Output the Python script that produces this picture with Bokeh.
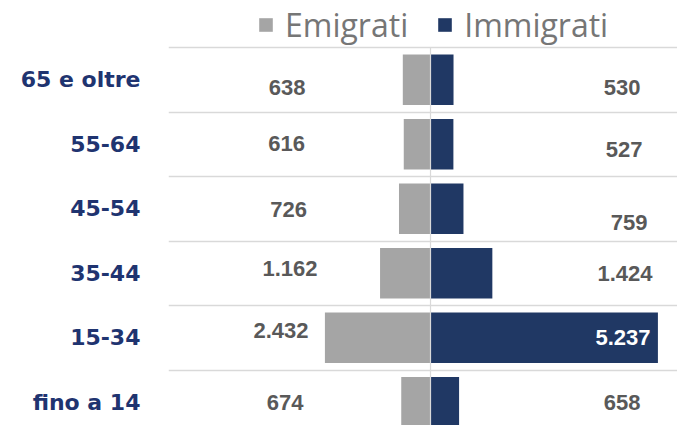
from bokeh.plotting import figure
from bokeh.models import (ColumnDataSource, Range1d, FixedTicker, Legend, LegendItem)
from bokeh.core.properties import value
from bokeh.embed import file_html
from bokeh.resources import INLINE

# ---- data ----
categories = ["65 e oltre", "55-64", "45-54", "35-44", "15-34", "fino a 14"]
emigrati = [638, 616, 726, 1162, 2432, 674]
immigrati = [530, 527, 759, 1424, 5237, 658]
series_names = ["Emigrati", "Immigrati"]

# ---- layout / style ----
GRAY = "#A5A5A5"
NAVY = "#203864"
LABEL_NAVY = "#1F3470"
VAL_GRAY = "#595959"
GRID = "#D9D9D9"

# per-label nudges in screen pixels (label placement as in the original)
emi_dx = [0.5, 0, 2, 3.5, -5.5, -1.5]
emi_dy = [7.5, -0.5, 1, -5, -7.5, 0.5]
imm_dx = [-1.5, 0.5, 5.5, 1.5, -0.5, -1.5]
imm_dy = [7.5, 5, 13.5, 0, -0.5, 0.5]
LEFT_COL = -3316   # x of the Emigrati value column (data units)
RIGHT_COL = 4445   # x of the Immigrati value column (data units)


def fmt(v):
    return f"{v:,}".replace(",", ".")


n = len(categories)
centers = [i + 0.5 for i in range(n)]

src = ColumnDataSource(dict(
    y=centers,
    cat=categories,
    emi_left=[-v for v in emigrati],
    emi=emigrati,
    imm=immigrati,
    zero=[0] * n,
    emi_txt=[fmt(v) for v in emigrati],
    imm_txt=[fmt(v) for v in immigrati],
    emi_x=[LEFT_COL] * n,
    imm_x=[RIGHT_COL] * n,
    emi_dx=emi_dx, emi_dy=emi_dy,
    imm_dx=imm_dx, imm_dy=imm_dy,
    imm_col=["#FFFFFF" if v == max(immigrati) else VAL_GRAY for v in immigrati],
))

p = figure(width=677, height=425, output_backend="svg", toolbar_location=None,
           x_range=Range1d(-6034, 5688), y_range=Range1d(5.86, -0.729),
           min_border_left=168, min_border_right=0, min_border_top=0,
           min_border_bottom=0)
p.outline_line_color = None
p.background_fill_color = "white"
p.border_fill_color = "white"
p.xaxis.visible = False
p.xgrid.visible = False

p.ygrid.ticker = FixedTicker(ticks=list(range(n)))
p.ygrid.grid_line_color = GRID
p.ygrid.grid_line_width = 1.5

yax = p.yaxis[0]
yax.ticker = FixedTicker(ticks=centers)
yax.major_label_overrides = {c: lab for c, lab in zip(centers, categories)}
yax.axis_line_color = None
yax.major_tick_line_color = None
yax.minor_tick_line_color = None
yax.major_tick_out = 0
yax.major_tick_in = 0
yax.major_label_standoff = 28
yax.major_label_text_font = "DejaVu Sans"
yax.major_label_text_font_style = "bold"
yax.major_label_text_font_size = "22px"
yax.major_label_text_color = LABEL_NAVY

r_emi = p.hbar(y="y", left="emi_left", right="zero", height=0.78, source=src,
               fill_color=GRAY, line_color=None)
r_imm = p.hbar(y="y", left="zero", right="imm", height=0.78, source=src,
               fill_color=NAVY, line_color=None)

# central axis line
p.segment(x0=0, y0=0, x1=0, y1=n, line_color=GRID, line_width=1.2)

p.text(x="emi_x", y="y", text="emi_txt", source=src, x_offset="emi_dx",
       y_offset="emi_dy", text_align="center", text_baseline="middle",
       text_font=value("Liberation Sans"), text_font_style="bold",
       text_font_size="22px", text_color=VAL_GRAY)
p.text(x="imm_x", y="y", text="imm_txt", source=src, x_offset="imm_dx",
       y_offset="imm_dy", text_align="center", text_baseline="middle",
       text_font=value("Liberation Sans"), text_font_style="bold",
       text_font_size="22px", text_color="imm_col")

legend = Legend(items=[LegendItem(label=series_names[0], renderers=[r_emi]),
                       LegendItem(label=series_names[1], renderers=[r_imm])],
                orientation="horizontal", location=(89, 379),
                glyph_width=17, glyph_height=17, label_standoff=11, spacing=28,
                padding=0, margin=0, border_line_color=None,
                background_fill_alpha=0, label_text_font="Open Sans",
                label_text_font_size="32px", label_text_color="#767676")
p.add_layout(legend)

open("out.html", "w").write(file_html(p, INLINE))
